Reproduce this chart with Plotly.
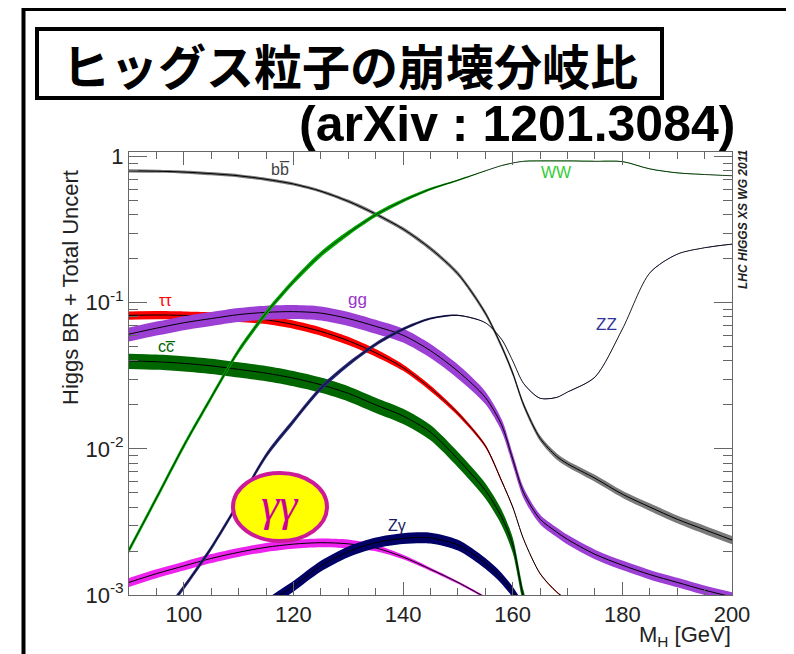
import plotly.graph_objects as go

# ---------------- data ----------------
MASS = [90, 95, 100, 105, 110, 115, 120, 125, 130, 135, 140, 145, 150, 155,
        158, 160, 162, 165, 168, 170, 175, 180, 185, 190, 195, 200]

BR_BB = [0.80, 0.795, 0.785, 0.765, 0.74, 0.70, 0.65, 0.58, 0.495, 0.405, 0.32,
         0.235, 0.158, 0.085, 0.050, 0.033, 0.020, 0.0118, 0.0089, 0.0079,
         0.0063, 0.0049, 0.0040, 0.0033, 0.0028, 0.00238]
BR_TAUTAU = [0.082, 0.0825, 0.082, 0.081, 0.079, 0.0765, 0.071, 0.0637, 0.055,
             0.0455, 0.036, 0.026, 0.0175, 0.0105, 0.006, 0.0040, 0.0024,
             0.0014, 0.00105, 0.00092, None, None, None, None, None, None]
BR_GG = [0.061, 0.067, 0.073, 0.078, 0.083, 0.086, 0.087, 0.085, 0.078, 0.069,
         0.060, 0.047, 0.034, 0.0225, 0.0145, 0.0085, 0.0050, 0.0033, 0.0027,
         0.0024, 0.0019, 0.0016, 0.00138, 0.00122, 0.00108, 0.00097]
BR_CC = [0.040, 0.0395, 0.0385, 0.037, 0.035, 0.033, 0.0305, 0.0275, 0.024,
         0.020, 0.0168, 0.013, 0.0085, 0.0052, 0.0034, 0.0022, 0.00095, 0.0004,
         None, None, None, None, None, None, None, None]
BR_GAGA = [0.00122, 0.0014, 0.00158, 0.00178, 0.00196, 0.00212, 0.00223,
           0.00228, 0.00224, 0.0021, 0.00182, 0.0015, 0.00122, 0.00096, 0.0008,
           0.0007, None, None, None, None, None, None, None, None, None, None]
BR_ZGA = [None, None, None, 0.0002, 0.00049, 0.00085, 0.00115, 0.00158,
          0.00198, 0.00228, 0.00244, 0.00246, 0.0022, 0.00165, 0.0013, 0.00105,
          0.0008, 0.0005, None, None, None, None, None, None, None, None]
BR_WW = [0.00203, 0.0046, 0.0105, 0.0225, 0.047, 0.085, 0.14, 0.215, 0.30, 0.40,
         0.50, 0.60, 0.69, 0.80, 0.87, 0.905, 0.93, 0.935, 0.935, 0.935, 0.93,
         0.925, 0.825, 0.775, 0.755, 0.74]
BR_ZZ = [0.0004, 0.00065, 0.00113, 0.0021, 0.0043, 0.009, 0.0155, 0.026, 0.038,
         0.052, 0.066, 0.078, 0.082, 0.073, 0.056, 0.040, 0.028, 0.0222, 0.0225,
         0.0245, 0.031, 0.066, 0.16, 0.215, 0.238, 0.252]

# relative total uncertainty (half width of the band)
UNC_BB = [0.025, 0.025, 0.025, 0.025, 0.025, 0.025, 0.025, 0.025, 0.028, 0.03,
          0.03, 0.032, 0.035, 0.038, 0.04, 0.04, 0.042, 0.045, 0.05, 0.05,
          0.055, 0.055, 0.06, 0.06, 0.065, 0.065]
UNC_TAUTAU = [0.065, 0.065, 0.065, 0.065, 0.065, 0.065, 0.065, 0.065, 0.065,
              0.06, 0.05, 0.045, 0.035, 0.025, 0.02, 0.015, 0.01, 0.01, 0.01,
              0.01, 0.01, 0.01, 0.01, 0.01, 0.01, 0.01]
UNC_GG = [0.11, 0.11, 0.11, 0.11, 0.11, 0.11, 0.11, 0.11, 0.11, 0.11, 0.11,
          0.11, 0.11, 0.10, 0.095, 0.09, 0.085, 0.075, 0.075, 0.075, 0.075,
          0.075, 0.075, 0.075, 0.075, 0.075]
UNC_CC = 0.12
UNC_GAGA = [0.07, 0.07, 0.07, 0.07, 0.07, 0.07, 0.07, 0.07, 0.07, 0.05, 0.035,
            0.025, 0.02, 0.02, 0.02, 0.02, 0.02, 0.02, 0.02, 0.02, 0.02, 0.02,
            0.02, 0.02, 0.02, 0.02]
UNC_ZGA = 0.085
UNC_WW = [0.045, 0.045, 0.045, 0.045, 0.045, 0.045, 0.045, 0.045, 0.04, 0.035,
          0.03, 0.02, 0.012, 0.005, 0.005, 0.005, 0.005, 0.005, 0.005, 0.005,
          0.005, 0.005, 0.005, 0.005, 0.005, 0.005]
UNC_ZZ = [0.04, 0.04, 0.04, 0.04, 0.04, 0.04, 0.04, 0.04, 0.035, 0.03,
          0.025, 0.015, 0.01, 0.005, 0.005, 0.005, 0.005, 0.005, 0.005, 0.005,
          0.005, 0.005, 0.005, 0.005, 0.005, 0.005]

X_TICKS = [100, 120, 140, 160, 180, 200]
Y_TICKS = [0.001, 0.01, 0.1, 1]
Y_TICK_TEXT = ["10<sup>-3</sup>", "10<sup>-2</sup>", "10<sup>-1</sup>", "1"]

TITLE = "ヒッグス粒子の崩壊分岐比"
SUBTITLE = "(arXiv : 1201.3084)"
Y_TITLE = "Higgs BR + Total Uncert"
X_TITLE = "M<sub>H</sub> [GeV]"
STAMP = "LHC HIGGS XS WG 2011"

# ---------------- figure ----------------
OFF = 8  # the page body margin shifts the figure by this many pixels
W, H = 794, 654
L, T = 129 - OFF, 152 - OFF
PW, PH = 603, 443
R, B = W - L - PW, H - T - PH


def px(x):
    """reference-picture pixel x -> paper fraction"""
    return (x - OFF - L) / PW


def py(y):
    """reference-picture pixel y -> paper fraction"""
    return (T + PH - (y - OFF)) / PH


fig = go.Figure()
SM = 0.8


def add_channel(vals, unc, band_color, line_color="black", line_w=1.0):
    xs, ys, us = [], [], []
    for i, (m, v) in enumerate(zip(MASS, vals)):
        if v is None:
            continue
        u = unc[i] if isinstance(unc, list) else unc
        xs.append(m)
        ys.append(v)
        us.append(u)
    up = [v * (1 + u) for v, u in zip(ys, us)]
    lo = [v * (1 - u) for v, u in zip(ys, us)]
    fig.add_trace(go.Scatter(x=xs, y=up, mode="lines",
                             line=dict(width=0, shape="spline", smoothing=SM),
                             hoverinfo="skip", showlegend=False))
    fig.add_trace(go.Scatter(x=xs, y=lo, mode="lines",
                             line=dict(width=0, shape="spline", smoothing=SM),
                             fill="tonexty", fillcolor=band_color,
                             hoverinfo="skip", showlegend=False))
    fig.add_trace(go.Scatter(x=xs, y=ys, mode="lines",
                             line=dict(color=line_color, width=line_w,
                                       shape="spline", smoothing=SM),
                             showlegend=False))


add_channel(BR_TAUTAU, UNC_TAUTAU, "#ff0000")
add_channel(BR_CC, UNC_CC, "#006600")
add_channel(BR_GG, UNC_GG, "#9c3fd4")
add_channel(BR_GAGA, UNC_GAGA, "#ee22ee")
add_channel(BR_ZGA, UNC_ZGA, "#000066")
add_channel(BR_BB, UNC_BB, "#7a7a7a")
add_channel(BR_ZZ, UNC_ZZ, "#2a2a80", line_w=0.8)
add_channel(BR_WW, UNC_WW, "#00aa00", line_w=0.7)

minor_y = [k * 10 ** d for d in (-3, -2, -1) for k in range(2, 10)]

AX = "#666666"
fig.update_layout(
    width=W, height=H,
    margin=dict(l=L, r=R, t=T, b=B, pad=0),
    paper_bgcolor="white", plot_bgcolor="white",
    font=dict(family="Liberation Sans, Arial, sans-serif", color="#222222", size=22),
    showlegend=False,
)
fig.update_xaxes(
    range=[90, 200], showline=True, linecolor=AX, linewidth=1, mirror="allticks",
    ticks="inside", ticklen=13, tickcolor=AX, tickvals=X_TICKS,
    ticktext=[str(v) for v in X_TICKS], tickfont=dict(size=22),
    showgrid=False, zeroline=False, automargin=False,
    minor=dict(ticks="inside", ticklen=7, dtick=5, tick0=90, tickcolor=AX, showgrid=False),
)
fig.update_yaxes(
    type="log", range=[-3, 0.032], showline=True, linecolor=AX, linewidth=1,
    mirror="allticks", ticks="inside", ticklen=18, tickcolor=AX,
    tickvals=Y_TICKS, ticktext=Y_TICK_TEXT, tickfont=dict(size=22),
    showgrid=False, zeroline=False, automargin=False,
    minor=dict(ticks="inside", ticklen=9, tickvals=minor_y, tickcolor=AX, showgrid=False),
)

shapes = [
    # outer slide frame
    dict(type="rect", xref="paper", yref="paper", x0=px(23.5), x1=px(791),
         y0=py(680), y1=py(9), line=dict(color="black", width=4), layer="above"),
    # title box
    dict(type="rect", xref="paper", yref="paper", x0=px(37), x1=px(662),
         y0=py(98), y1=py(29), line=dict(color="black", width=4),
         fillcolor="white", layer="above"),
    # gamma-gamma highlight ellipse
    dict(type="circle", xref="paper", yref="paper", x0=px(233), x1=px(327),
         y0=py(541), y1=py(473), line=dict(color="#cc1a99", width=4),
         fillcolor="#ffff00", layer="above"),
]
fig.update_layout(shapes=shapes)


def ann(text, x, y, size, color, **kw):
    d = dict(text=text, x=px(x), y=py(y), xref="paper", yref="paper",
             showarrow=False, font=dict(size=size, color=color,
                                        family=kw.pop("family", "Liberation Sans, Arial, sans-serif")),
             xanchor=kw.pop("xanchor", "center"), yanchor=kw.pop("yanchor", "middle"))
    d.update(kw)
    fig.add_annotation(**d)


ann("<b>" + TITLE + "</b>", 349.5, 64, 48, "black", family="Noto Sans CJK JP")
ann("<b>" + SUBTITLE + "</b>", 737, 124, 50, "black", xanchor="right")
ann(Y_TITLE, 70, 288, 22, "#222222", textangle=-90)
ann(X_TITLE, 733, 636, 22, "#222222", xanchor="right")
ann("<b><i>" + STAMP + "</i></b>", 743, 220, 12, "#222222", textangle=-90)

# channel labels
ann("bb\u0305", 280, 169, 16, "#444444")
ann("WW", 556, 173, 16, "#33cc33")
ann("ZZ", 606, 324, 17, "#333399")
ann("\u03c4\u03c4", 165, 300, 16, "#ff0000")
ann("gg", 357, 299, 17, "#9933cc")
ann("cc\u0305", 166, 346, 16, "#006600")
ann("Z\u03b3", 397, 525, 16, "#1a1a66")
ann("<i>\u03b3\u03b3</i>", 280, 504, 46, "#cc0099", family="Liberation Serif, serif")

fig.write_html("out.html")
